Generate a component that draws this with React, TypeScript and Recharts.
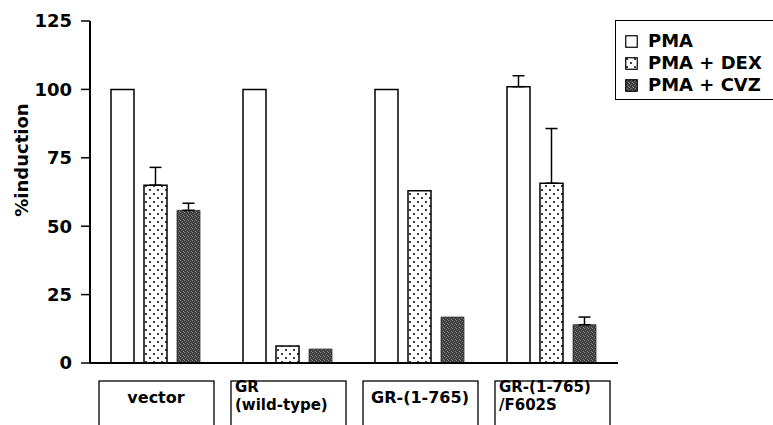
import React from 'react';
import { BarChart, Bar, XAxis, YAxis, ErrorBar, Legend } from 'recharts';

const categories = ['vector', 'GR\n(wild-type)', 'GR-(1-765)', 'GR-(1-765)\n/F602S'];
const pmaValues = [100, 100, 100, 101];
const pmaErrors: (number | null)[] = [null, null, null, 4];
const dexValues = [65, 6.2, 63, 65.7];
const dexErrors: (number | null)[] = [6.5, null, null, 20];
const cvzValues = [55.8, 5.1, 16.8, 14];
const cvzErrors: (number | null)[] = [2.6, null, null, 2.8];
const yTicks = [0, 25, 50, 75, 100, 125];
const seriesNames = ['PMA', 'PMA + DEX', 'PMA + CVZ'];

const data = categories.map((c, i) => ({
  name: c,
  pma: pmaValues[i],
  pmaErr: pmaErrors[i] == null ? null : [0, pmaErrors[i]],
  dex: dexValues[i],
  dexErr: dexErrors[i] == null ? null : [0, dexErrors[i]],
  cvz: cvzValues[i],
  cvzErr: cvzErrors[i] == null ? null : [0, cvzErrors[i]],
}));

const FONT = '"DejaVu Sans", Arial, sans-serif';

const XTick = (props: any) => {
  const { x, y, payload } = props;
  const lines = String(payload.value).split('\n');
  const left = x - 57;
  const top = y + 18;
  return (
    <g>
      <rect x={left} y={top} width={115} height={70} fill="#fff" stroke="#000" strokeWidth={1.3} />
      {lines.length === 1 ? (
        <text x={x} y={y + 40} textAnchor="middle" fontFamily={FONT} fontWeight="bold" fontSize={16} fill="#000">
          {lines[0]}
        </text>
      ) : (
        lines.map((l, i) => (
          <text key={i} x={left + 4} y={y + 29 + i * 17.6} textAnchor="start" fontFamily={FONT} fontWeight="bold" fontSize={15} fill="#000">
            {l}
          </text>
        ))
      )}
    </g>
  );
};

const Swatch = ({ fill }: { fill: string }) => (
  <svg width={13} height={13} style={{ display: 'block' }}>
    <rect x={0.75} y={0.75} width={11.5} height={11.5} fill={fill} stroke="#000" strokeWidth={1.2} />
  </svg>
);

const LegendBox = () => {
  const fills = ['#fff', 'url(#dots)', 'url(#stipple)'];
  return (
    <div
      style={{
        border: '1.5px solid #000',
        width: 180,
        height: 80,
        boxSizing: 'border-box',
        padding: '9px 0 0 9px',
        fontFamily: FONT,
        fontWeight: 'bold',
        fontSize: 18,
        background: '#fff',
      }}
    >
      {seriesNames.map((n, i) => (
        <div key={n} style={{ display: 'flex', alignItems: 'center', height: 22 }}>
          <Swatch fill={fills[i]} />
          <span style={{ marginLeft: 10, lineHeight: '22px' }}>{n}</span>
        </div>
      ))}
    </div>
  );
};

export default function App() {
  return (
    <div style={{ position: 'absolute', left: 0, top: 0, width: 773, height: 425, overflow: 'hidden', background: '#fff' }}>
      <BarChart
        width={773}
        height={425}
        data={data}
        margin={{ top: 21, right: 155, bottom: 0, left: 0 }}
        barGap={10}
        barCategoryGap={21}
      >
        <defs>
          <pattern id="dots" width={8} height={8} patternUnits="userSpaceOnUse">
            <rect width={8} height={8} fill="#fff" />
            <circle cx={2} cy={2} r={1} fill="#000" />
            <circle cx={6} cy={6} r={1} fill="#000" />
          </pattern>
          <pattern id="stipple" width={4} height={4} patternUnits="userSpaceOnUse">
            <rect width={4} height={4} fill="#3d3d3d" />
            <rect x={0} y={0} width={1} height={1} fill="#8c8c8c" />
            <rect x={2} y={1} width={1} height={1} fill="#777" />
            <rect x={1} y={2} width={1} height={1} fill="#6a6a6a" />
            <rect x={3} y={3} width={1} height={1} fill="#8c8c8c" />
          </pattern>
        </defs>
        <XAxis
          dataKey="name"
          height={62}
          axisLine={{ stroke: '#000', strokeWidth: 2 }}
          tickLine={false}
          tickSize={0}
          tickMargin={0}
          tick={<XTick />}
          interval={0}
        />
        <YAxis
          width={90}
          domain={[0, 125]}
          ticks={yTicks}
          interval={0}
          axisLine={{ stroke: '#000', strokeWidth: 2 }}
          tickLine={{ stroke: '#000', strokeWidth: 1.5 }}
          tickSize={9}
          tickMargin={9}
          tick={{ fill: '#000', fontFamily: FONT, fontWeight: 'bold', fontSize: 18 }}
          label={(p: any) => (
            <text
              x={28}
              y={160}
              transform="rotate(-90 28 160)"
              textAnchor="middle"
              fontFamily={FONT}
              fontWeight="bold"
              fontSize={18}
              fill="#000"
            >
              %induction
            </text>
          )}
        />
        <Legend
          layout="vertical"
          align="center"
          verticalAlign="middle"
          content={<LegendBox />}
          wrapperStyle={{ position: 'absolute', left: 615, top: 20, width: 180 }}
        />
        <Bar dataKey="pma" name="PMA" fill="#fff" stroke="#000" strokeWidth={1.5} isAnimationActive={false}>
          <ErrorBar dataKey="pmaErr" width={6} stroke="#000" strokeWidth={1.5} direction="y" />
        </Bar>
        <Bar dataKey="dex" name="PMA + DEX" fill="url(#dots)" stroke="#000" strokeWidth={1.5} isAnimationActive={false}>
          <ErrorBar dataKey="dexErr" width={6} stroke="#000" strokeWidth={1.5} direction="y" />
        </Bar>
        <Bar dataKey="cvz" name="PMA + CVZ" fill="url(#stipple)" stroke="#333" strokeWidth={0.8} isAnimationActive={false}>
          <ErrorBar dataKey="cvzErr" width={6} stroke="#000" strokeWidth={1.5} direction="y" />
        </Bar>
      </BarChart>
    </div>
  );
}
